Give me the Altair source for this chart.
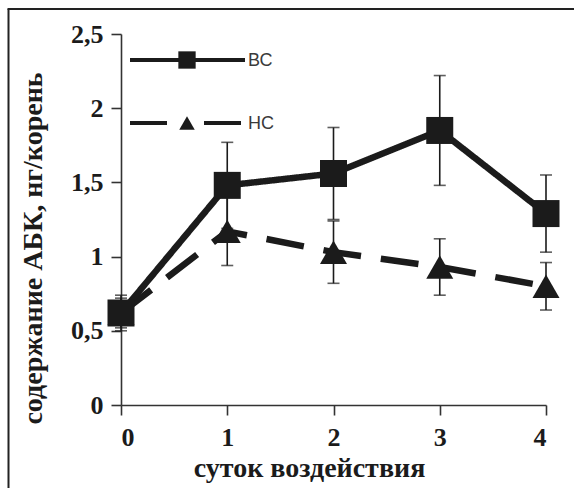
import altair as alt
import pandas as pd

# Days of treatment and ABA content (ng/root) with error half-widths
days = [0, 1, 2, 3, 4]
vs_mean = [0.62, 1.48, 1.56, 1.85, 1.29]
vs_err = [0.12, 0.29, 0.31, 0.37, 0.26]
ns_mean = [0.62, 1.17, 1.03, 0.93, 0.80]
ns_err = [0.10, 0.23, 0.21, 0.19, 0.16]

y_ticks = [0, 0.5, 1, 1.5, 2, 2.5]
x_ticks = [0, 1, 2, 3, 4]

INK = "#1b1b1b"
SERIF = "Liberation Serif"
TRI = "M0,-0.87L1,0.87L-1,0.87Z"

vs = pd.DataFrame({"day": days, "v": vs_mean,
                   "lo": [m - e for m, e in zip(vs_mean, vs_err)],
                   "hi": [m + e for m, e in zip(vs_mean, vs_err)]})
ns = pd.DataFrame({"day": days, "v": ns_mean,
                   "lo": [m - e for m, e in zip(ns_mean, ns_err)],
                   "hi": [m + e for m, e in zip(ns_mean, ns_err)]})

x = alt.X("day:Q", scale=alt.Scale(domain=[0, 4], nice=False, zero=False),
          axis=alt.Axis(values=x_ticks, title="суток воздействия", format="d",
                        grid=False, domainColor="#333", domainWidth=1.6,
                        tickColor="#333", tickWidth=1.6, tickSize=10,
                        labelFont=SERIF, labelFontWeight="bold", labelFontSize=26,
                        labelColor=INK, labelPadding=9,
                        titleFont=SERIF, titleFontWeight="bold", titleFontSize=28,
                        titleColor=INK, titleX=188, titleY=71,
                        titleAlign="center", titleBaseline="alphabetic"))
y = alt.Y("v:Q", scale=alt.Scale(domain=[0, 2.5], nice=False),
          axis=alt.Axis(values=y_ticks, title="содержание АБК, нг/корень",
                        labelExpr="replace(format(datum.value, ''), '.', ',')",
                        grid=False, domainColor="#333", domainWidth=1.6,
                        tickColor="#333", tickWidth=1.6, tickSize=10,
                        labelFont=SERIF, labelFontWeight="bold", labelFontSize=26,
                        labelColor=INK, labelPadding=8,
                        titleFont=SERIF, titleFontWeight="bold", titleFontSize=28,
                        titleColor=INK, titleX=-88, titleY=214, titleAngle=270,
                        titleAlign="center", titleBaseline="middle"))


def series(df, dash, shape, size):
    base = alt.Chart(df)
    line = base.mark_line(color=INK, strokeWidth=6.5, strokeDash=dash).encode(x=x, y=y)
    bar = base.mark_rule(color=INK, strokeWidth=1.6).encode(
        x="day:Q", y="lo:Q", y2="hi:Q")
    cap_lo = base.mark_tick(color=INK, thickness=1.6, size=12, orient="horizontal").encode(
        x="day:Q", y="lo:Q")
    cap_hi = base.mark_tick(color=INK, thickness=1.6, size=12, orient="horizontal").encode(
        x="day:Q", y="hi:Q")
    pts = base.mark_point(shape=shape, size=size, filled=True, color=INK, opacity=1).encode(
        x="day:Q", y="v:Q")
    return [bar, cap_lo, cap_hi, line, pts]


ns_layers = series(ns, [38, 20], TRI, 729)
vs_layers = series(vs, [1, 0], "square", 729)

# Legend drawn inside the plot area
one = pd.DataFrame({"k": [0]})
leg = alt.Chart(one)
leg_vs_line = leg.mark_rule(color=INK, strokeWidth=4).encode(
    x=alt.value(9), x2=alt.value(124), y=alt.value(26))
leg_vs_pt = leg.mark_point(shape="square", size=300, filled=True, color=INK, opacity=1).encode(
    x=alt.value(66), y=alt.value(26))
leg_vs_txt = leg.mark_text(text="ВС", font="Liberation Sans", fontSize=18, color="#3a3a3a",
                           align="left", baseline="middle").encode(
    x=alt.value(127), y=alt.value(27))
leg_ns_line = leg.mark_rule(color=INK, strokeWidth=4, strokeDash=[37, 37]).encode(
    x=alt.value(9), x2=alt.value(120), y=alt.value(89))
leg_ns_pt = leg.mark_point(shape=TRI, size=240, filled=True, color=INK, opacity=1).encode(
    x=alt.value(66), y=alt.value(89))
leg_ns_txt = leg.mark_text(text="НС", font="Liberation Sans", fontSize=18, color="#3a3a3a",
                           align="left", baseline="middle").encode(
    x=alt.value(127), y=alt.value(90))

# Outer frame lines (left and top)
frame_left = leg.mark_rule(color="#222", strokeWidth=2).encode(
    x=alt.value(-112.5), y=alt.value(-25), y2=alt.value(460))
frame_top = leg.mark_rule(color="#222", strokeWidth=2).encode(
    x=alt.value(-113.5), x2=alt.value(460), y=alt.value(-25))

chart = alt.layer(
    *ns_layers, *vs_layers,
    leg_vs_line, leg_vs_pt, leg_vs_txt, leg_ns_line, leg_ns_pt, leg_ns_txt,
    frame_left, frame_top,
).properties(
    width=425, height=371,
    autosize=alt.AutoSizeParams(type="none"),
    padding={"left": 121, "top": 34, "right": 28, "bottom": 83},
    background="white",
).configure_view(stroke=None)

chart.save("out.html", embed_options={"renderer": "svg", "actions": False})
